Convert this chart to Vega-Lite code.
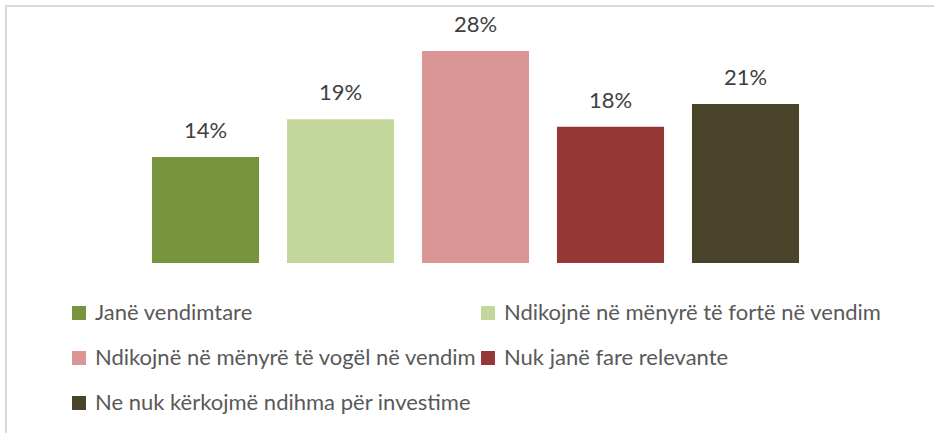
{
  "$schema": "https://vega.github.io/schema/vega-lite/v6.json",
  "width": 940,
  "height": 440,
  "autosize": "none",
  "padding": {"left": 6, "top": 6, "right": 0, "bottom": 0},
  "background": "white",
  "config": {
    "view": {"stroke": "#d9d9d9", "strokeWidth": 2},
    "font": "Lato"
  },
  "data": {
    "values": [
      {"category": "Janë vendimtare", "value": 0.14},
      {"category": "Ndikojnë në mënyrë të fortë në vendim", "value": 0.19},
      {"category": "Ndikojnë në mënyrë të vogël në vendim", "value": 0.28},
      {"category": "Nuk janë fare relevante", "value": 0.18},
      {"category": "Ne nuk kërkojmë ndihma për investime", "value": 0.21}
    ]
  },
  "encoding": {
    "x": {
      "field": "category",
      "type": "nominal",
      "sort": null,
      "axis": null,
      "scale": {"range": [132, 807], "paddingInner": 0.207, "paddingOuter": 0.1035}
    },
    "y": {
      "field": "value",
      "type": "quantitative",
      "axis": null,
      "scale": {"domain": [0, 0.3], "range": [257, 29.86], "nice": false}
    }
  },
  "layer": [
    {
      "mark": {"type": "bar"},
      "encoding": {
        "color": {
          "field": "category",
          "type": "nominal",
          "sort": null,
          "scale": {
            "domain": ["Janë vendimtare", "Ndikojnë në mënyrë të fortë në vendim", "Ndikojnë në mënyrë të vogël në vendim", "Nuk janë fare relevante", "Ne nuk kërkojmë ndihma për investime"],
            "range": ["#77933c", "#c4d79b", "#da9694", "#953735", "#494429"]
          },
          "legend": {
            "orient": "none",
            "legendX": 62,
            "legendY": 296,
            "direction": "horizontal",
            "columns": 2,
            "title": null,
            "padding": 0,
            "symbolType": "square",
            "symbolSize": 196,
            "symbolStrokeWidth": 0,
            "symbolOffset": 0,
            "labelOffset": 5,
            "labelFontSize": 22,
            "labelColor": "#595959",
            "labelLimit": 0,
            "rowPadding": 23,
            "columnPadding": -4
          }
        }
      }
    },
    {
      "mark": {"type": "text", "dy": -19, "baseline": "alphabetic", "fontSize": 22, "color": "#404040"},
      "encoding": {
        "text": {"field": "value", "type": "quantitative", "format": ".0%"}
      }
    }
  ]
}
